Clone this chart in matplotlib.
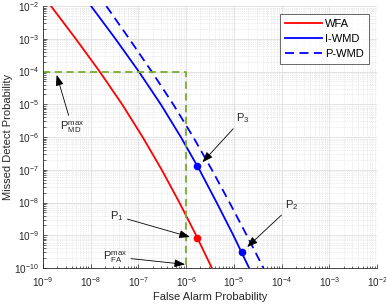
import numpy as np
import matplotlib
matplotlib.use('Agg')
import matplotlib.pyplot as plt
from matplotlib.ticker import LogLocator, NullFormatter

plt.rcParams['font.family'] = ['Liberation Sans', 'DejaVu Sans']
plt.rcParams['mathtext.fontset'] = 'custom'
plt.rcParams['mathtext.rm'] = 'Liberation Sans'
plt.rcParams['mathtext.it'] = 'Liberation Sans'
plt.rcParams['mathtext.default'] = 'regular'

# missed detect levels (log10) shared by the three curves
log_pmd = [-2, -3, -4, -5, -6, -7, -8, -9, -10]
# false alarm (log10)
log_pfa_wfa = [-8.83, -8.31, -7.81, -7.34, -6.91, -6.51, -6.14, -5.79, -5.46]
log_pfa_iwmd = [-7.99, -7.48, -6.99, -6.53, -6.11, -5.72, -5.36, -5.01, -4.68]
log_pfa_pwmd = [-7.67, -7.19, -6.72, -6.27, -5.85, -5.46, -5.09, -4.73, -4.38]

# operating points
p1 = (1.7e-6, 8.5e-10)
p2 = (1.5e-5, 3.1e-10)
p3 = (1.7e-6, 1.3e-7)
pfa_max = 1e-6
pmd_max = 1e-4

pmd = 10.0 ** np.array(log_pmd)

fig = plt.figure(figsize=(3.86, 3.05), dpi=100)
ax = fig.add_axes([0.111, 0.121, 0.866, 0.859])

ax.plot(10.0 ** np.array(log_pfa_wfa), pmd, color='#ff0000', lw=1.3, label='WFA')
ax.plot(10.0 ** np.array(log_pfa_iwmd), pmd, color='#0000ff', lw=1.3, label='I-WMD')
ax.plot(10.0 ** np.array(log_pfa_pwmd), pmd, color='#0000ff', lw=1.3, ls=(0, (5, 3)), label='P-WMD')

green = '#77ac30'
ax.plot([1e-9, pfa_max, pfa_max], [pmd_max, pmd_max, 1e-10], color=green, lw=1.3, ls=(0, (4, 2.5)))

ax.plot(*p1, 'o', color='#ff0000', ms=4.5)
ax.plot(*p2, 'o', color='#0000ff', ms=4.5)
ax.plot(*p3, 'o', color='#0000ff', ms=4.5)

ax.set_xscale('log')
ax.set_yscale('log')
ax.set_xlim(1e-9, 1e-2)
ax.set_ylim(1e-10, 1e-2)
ax.xaxis.set_major_locator(LogLocator(base=10, numticks=20))
ax.yaxis.set_major_locator(LogLocator(base=10, numticks=20))
ax.xaxis.set_minor_locator(LogLocator(base=10, subs=np.arange(2, 10), numticks=20))
ax.yaxis.set_minor_locator(LogLocator(base=10, subs=np.arange(2, 10), numticks=20))
ax.xaxis.set_minor_formatter(NullFormatter())
ax.yaxis.set_minor_formatter(NullFormatter())

ax.grid(True, which='major', color='#dedede', lw=0.6)
ax.grid(True, which='minor', color='#d8d8d8', lw=0.5, ls=':')
ax.set_axisbelow(True)

for s in ['top', 'right']:
    ax.spines[s].set_visible(False)
for s in ['left', 'bottom']:
    ax.spines[s].set_color('#262626')
    ax.spines[s].set_linewidth(0.6)
ax.tick_params(which='both', direction='in', colors='#262626', labelsize=7.2, width=0.5)
ax.tick_params(which='major', length=3)
ax.tick_params(which='minor', length=1.8)
ax.tick_params(axis='x', which='major', pad=5)
ax.tick_params(axis='y', which='major', pad=3)

ax.set_xlabel('False Alarm Probability', fontsize=8, color='#262626', labelpad=2)
ax.set_ylabel('Missed Detect Probability', fontsize=8, color='#262626')
ax.yaxis.set_label_coords(-0.09, 0.5)

leg = ax.legend(loc='upper right', fontsize=8, handlelength=3.3, handletextpad=0.3,
                borderpad=0.45, labelspacing=0.45, fancybox=False,
                bbox_to_anchor=(0.976, 0.969), borderaxespad=0)
leg.get_frame().set_edgecolor('#262626')
leg.get_frame().set_linewidth(0.6)

arrow = dict(arrowstyle='-|>,head_length=0.8,head_width=0.3', color='black', lw=0.6,
             shrinkA=1, shrinkB=0)
kw = dict(fontsize=8, ha='center', va='center', color='#262626', arrowprops=arrow)
ax.annotate(r'$P_{MD}^{max}$', xy=(1.95e-9, 7.9e-5), xytext=(4.1e-9, 2.0e-6), **kw)
ax.annotate(r'$P_{FA}^{max}$', xy=(9.5e-7, 1.3e-10), xytext=(3.2e-8, 2.2e-10), **kw)
ax.annotate(r'$P_1$', xy=(1.2e-6, 8.9e-10), xytext=(3.5e-8, 3.9e-9), **kw)
ax.annotate(r'$P_3$', xy=(2.2e-6, 1.7e-7), xytext=(1.55e-5, 3.8e-6), **kw)
ax.annotate(r'$P_2$', xy=(1.9e-5, 4.4e-10), xytext=(1.65e-4, 8.3e-9), **kw)

fig.savefig('out.png', dpi=100)
